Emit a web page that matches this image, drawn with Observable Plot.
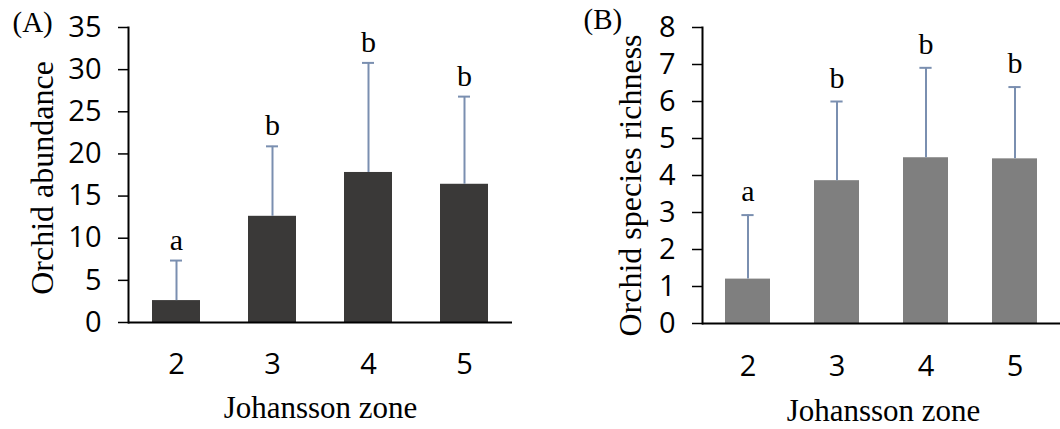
<!DOCTYPE html>
<html><head><meta charset="utf-8">
<script src="https://cdn.jsdelivr.net/npm/d3@7"></script>
<script src="https://cdn.jsdelivr.net/npm/@observablehq/plot@0.6"></script>
<style>
body{margin:0;background:#fff}
#wrap{display:flex;width:1060px;height:429px;overflow:hidden}
#wrap svg{flex:none}
</style></head><body><div id="wrap"></div>
<script>
const zones = ["2", "3", "4", "5"];
const abundanceMean = [2.6, 12.6, 17.8, 16.4];
const abundanceSD = [4.75, 8.3, 13.0, 10.4];
const abundanceLetters = ["a", "b", "b", "b"];
const abundanceTicks = [0, 5, 10, 15, 20, 25, 30, 35];
const richnessMean = [1.2, 3.86, 4.48, 4.45];
const richnessSD = [1.73, 2.14, 2.43, 1.94];
const richnessLetters = ["a", "b", "b", "b"];
const richnessTicks = [0, 1, 2, 3, 4, 5, 6, 7, 8];

const serif = "Liberation Serif, Times New Roman, serif";
const errColor = "#7a8fb0";

function panel(o) {
  const data = zones.map((z, i) => ({zone: z, mean: o.mean[i], top: o.mean[i] + o.sd[i], letter: o.letters[i]}));
  return Plot.plot({
    width: 530, height: 429,
    marginLeft: o.ml, marginRight: o.mr, marginTop: 27, marginBottom: o.mb,
    x: {domain: zones, paddingInner: 0.5, paddingOuter: 0.25, label: null},
    y: {domain: [0, o.max], label: null},
    style: {fontFamily: "'Open Sans', sans-serif", fontSize: "29px", color: "#000", background: "#fff"},
    marks: [
      Plot.barY(data, {x: "zone", y: "mean", fill: o.fill}),
      Plot.ruleX(data, {x: "zone", y1: "mean", y2: "top", stroke: errColor, strokeWidth: 2}),
      Plot.tickY(data, {x: "zone", y: "top", stroke: errColor, strokeWidth: 2, insetLeft: o.inset, insetRight: o.inset}),
      Plot.text(data, {x: "zone", y: "top", text: "letter", dy: o.ldy, lineAnchor: "bottom", fontFamily: serif, fontSize: 30}),
      Plot.axisY({ticks: o.ticks, tickSize: 10, tickPadding: 17, strokeWidth: 1.5, label: null, fontSize: 29}),
      Plot.axisX({tickSize: 0, tickPadding: o.xpad, label: null, fontSize: 29}),
      Plot.ruleY([0], {stroke: "#000", strokeWidth: 2}),
      Plot.frame({anchor: "left", stroke: "#000", strokeWidth: 2}),
      Plot.text([o.ylabel], {text: d => d, frameAnchor: "left", textAnchor: "middle", lineAnchor: "middle", rotate: -90, dx: o.ydx, dy: o.ydy, fontFamily: serif, fontSize: 32}),
      Plot.text(["Johansson zone"], {text: d => d, frameAnchor: "bottom", textAnchor: "middle", lineAnchor: "bottom", dx: o.xdx, dy: o.xdy, fontFamily: serif, fontSize: 31}),
      Plot.text([o.tag], {text: d => d, frameAnchor: "top-left", textAnchor: "start", lineAnchor: "bottom", dx: o.tdx, dy: o.tdy, fontFamily: serif, fontSize: 29})
    ]
  });
}

const wrap = document.getElementById("wrap");
wrap.appendChild(panel({
  mean: abundanceMean, sd: abundanceSD, letters: abundanceLetters, ticks: abundanceTicks, max: 35,
  ml: 128, mr: 18, mb: 107, fill: "#3a3938", inset: 18, ldy: -11, xpad: 31,
  ylabel: "Orchid abundance", ydx: -86, ydy: 3, xdx: 0, xdy: 95, tag: "(A)", tdx: -116, tdy: 4
}));
wrap.appendChild(panel({
  mean: richnessMean, sd: richnessSD, letters: richnessLetters, ticks: richnessTicks, max: 8,
  ml: 172, mr: 0, mb: 106, fill: "#7f7f7f", inset: 16.4, ldy: -14, xpad: 32,
  ylabel: "Orchid species richness", ydx: -72, ydy: 10, xdx: 2, xdy: 97, tag: "(B)", tdx: -119, tdy: 1
}));
</script></body></html>
